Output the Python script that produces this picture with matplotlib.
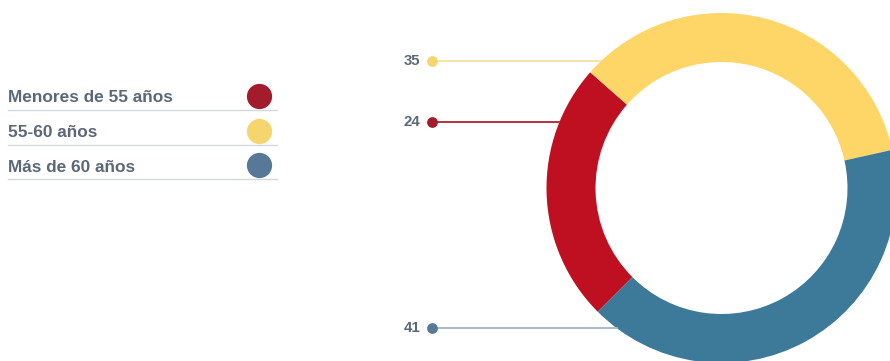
import matplotlib.pyplot as plt
import numpy as np

# Age groups and their share (%)
groups = ['Menores de 55 años', '55-60 años', 'Más de 60 años']
shares = [24, 35, 41]
ring_colors = ['#be1020', '#fed668', '#3d7a99']
dot_colors = ['#a31c2b', '#f7d56e', '#587898']
line_colors = ['#b3202f', '#f6e0a2', '#a3b5c7']
label_rows = [122, 61, 328]

TEXT = '#5b6878'
W, H = 890, 361


def plot_legend(ax):
    for i, (name, color) in enumerate(zip(groups, dot_colors)):
        y = H - (98 + i * 34.5)
        ax.text(8, y, name, ha='left', va='center', fontsize=12.4,
                fontweight='bold', color=TEXT, family='Liberation Sans')
        ax.plot([8, 277], [y - 12, y - 12], color='#d4d8dc', lw=1)
        ax.scatter([259], [y + 2], s=330, color=color, lw=0, zorder=3)


def plot_donut(ax):
    cx, cy, r = 721.5, H - 188, 175
    ax.pie(shares, colors=ring_colors, startangle=225, counterclock=False,
           center=(cx, cy), radius=r, frame=True,
           wedgeprops=dict(width=49, linewidth=0))

    # Leader lines from each value to the ring's outer edge.
    for val, row, dcol, lcol in zip(shares, label_rows, dot_colors, line_colors):
        y = H - row
        x_end = cx - np.sqrt(r ** 2 - (y - cy) ** 2)
        ax.plot([432, x_end], [y, y], color=lcol, lw=1.3, zorder=1)
        ax.scatter([432], [y], s=60, color=dcol, lw=0, zorder=3)
        ax.text(420, y, str(val), ha='right', va='center', fontsize=10.8,
                fontweight='bold', color=TEXT, family='Liberation Sans')


def plot():
    fig = plt.figure(figsize=(W / 100, H / 100), dpi=100)
    ax = fig.add_axes([0, 0, 1, 1])
    plot_donut(ax)
    plot_legend(ax)
    ax.set_xlim(0, W)
    ax.set_ylim(0, H)
    ax.set_aspect('equal')
    ax.axis('off')
    fig.savefig('out.png', dpi=100)


if __name__ == '__main__':
    plot()
